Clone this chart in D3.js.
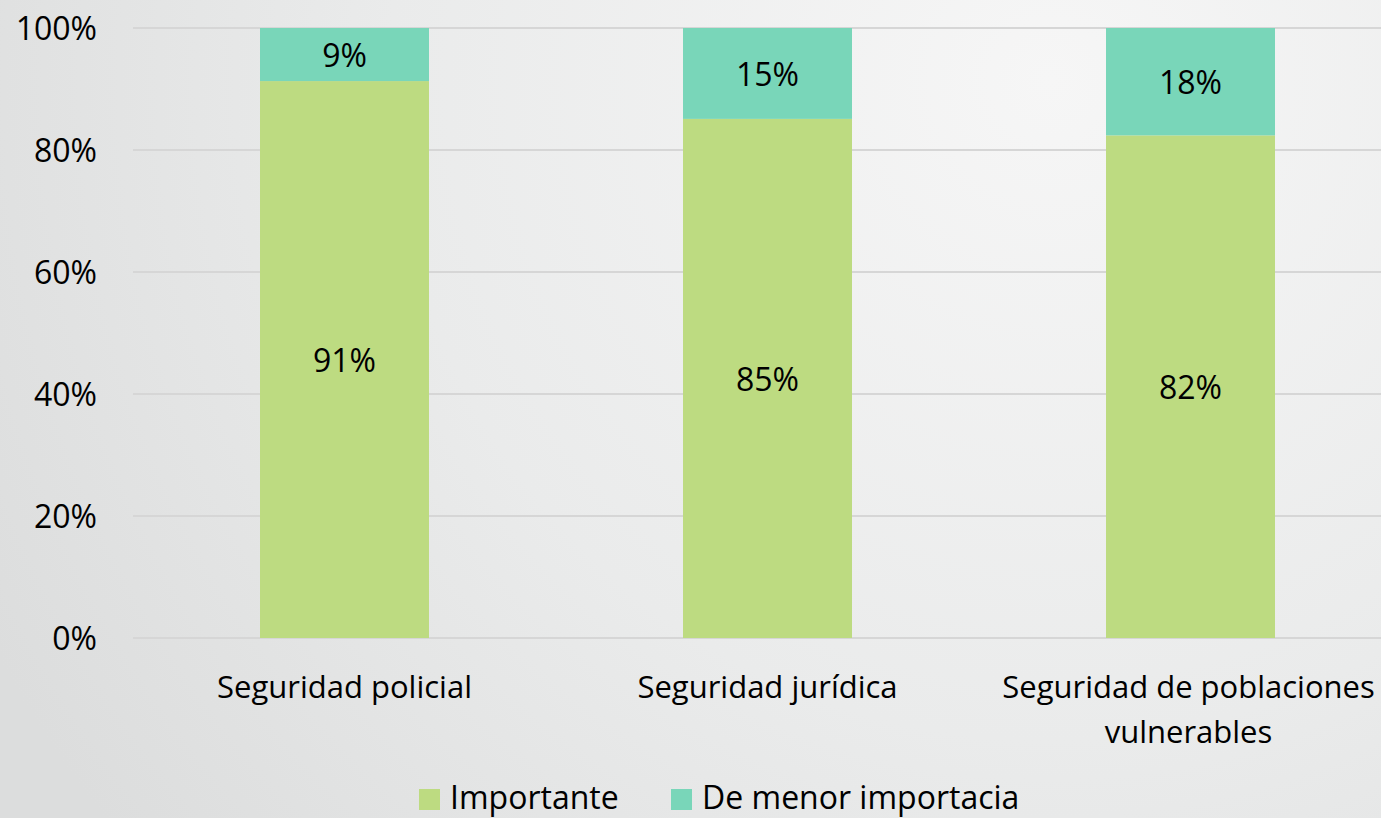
<!DOCTYPE html>
<html><head><meta charset="utf-8">
<script src="https://cdn.jsdelivr.net/npm/d3@7"></script>
<style>html,body{margin:0;padding:0;overflow:hidden;}svg{display:block;}</style>
</head><body>
<svg id="c" width="1381" height="818"></svg>
<script>
const categories = [["Seguridad policial"], ["Seguridad jurídica"], ["Seguridad de poblaciones", "vulnerables"]];
const seriesNames = ["Importante", "De menor importacia"];
const importante = [91.3, 85.1, 82.4];
const menor = [8.7, 14.9, 17.6];
const yTicks = [0, 20, 40, 60, 80, 100];
const colors = ["#bddb81", "#79d6b9"];

const W = 1381, H = 818;
const svg = d3.select("#c");
const font = "'Open Sans', sans-serif";
const fs = 32;

const defs = svg.append("defs");
const g = defs.append("radialGradient").attr("id","bg").attr("gradientUnits","userSpaceOnUse")
  .attr("cx",1050).attr("cy",80).attr("r",1200);
g.append("stop").attr("offset","0").attr("stop-color","#f6f6f6");
g.append("stop").attr("offset","0.55").attr("stop-color","#eaebeb");
g.append("stop").attr("offset","1").attr("stop-color","#dcdddd");
svg.append("rect").attr("width",W).attr("height",H).attr("fill","url(#bg)");

const x = d3.scaleBand().domain(d3.range(categories.length)).range([133, 1402]).paddingInner(0.6).paddingOuter(0.3);
const y = d3.scaleLinear().domain([0,100]).range([638, 28]);

// gridlines
svg.append("g").selectAll("line").data(yTicks).join("line")
  .attr("x1",133).attr("x2",W).attr("y1",d=>y(d)).attr("y2",d=>y(d))
  .attr("stroke","#d6d6d6").attr("stroke-width",2);

// y axis labels
const yAxis = d3.axisLeft(y).tickValues(yTicks).tickFormat(d=>d+"%").tickSize(0).tickPadding(0);
const ya = svg.append("g").attr("transform","translate(97,0)").call(yAxis);
ya.select(".domain").remove();
ya.selectAll("text").attr("font-family",font).attr("font-size",fs).attr("fill","#000").attr("dy","0.35em");

// stacked bars
const data = categories.map((c,i)=>({i, v:[importante[i], menor[i]]}));
const stack = data.map(d=>{let acc=0; return d.v.map((v,k)=>{const s={i:d.i,k,y0:acc,y1:acc+v,v}; acc+=v; return s;});}).flat();
const bw = 169;
svg.append("g").selectAll("rect").data(stack).join("rect")
  .attr("x",d=>x(d.i)+x.bandwidth()/2-bw/2).attr("width",bw)
  .attr("y",d=>y(d.y1)).attr("height",d=>y(d.y0)-y(d.y1))
  .attr("fill",d=>colors[d.k]);
svg.append("g").selectAll("text").data(stack).join("text")
  .attr("x",d=>x(d.i)+x.bandwidth()/2).attr("y",d=>(y(d.y0)+y(d.y1))/2)
  .attr("dy","0.38em").attr("text-anchor","middle")
  .attr("font-family",font).attr("font-size",fs).attr("fill","#000")
  .text(d=>Math.round(d.v)+"%");

// x labels
const xl = svg.append("g").selectAll("text").data(categories).join("text")
  .attr("text-anchor","middle").attr("font-family",font).attr("font-size",31).attr("fill","#000");
xl.each(function(lines,i){
  const t=d3.select(this);
  lines.forEach((l,j)=>t.append("tspan").attr("x",x(i)+x.bandwidth()/2 - (i===2?2:0)).attr("y",698+j*45).text(l));
});

// legend
const leg = [{n:seriesNames[0],c:colors[0],x:419},{n:seriesNames[1],c:colors[1],x:671}];
const lg = svg.append("g").selectAll("g").data(leg).join("g").attr("transform",d=>`translate(${d.x},0)`);
lg.append("rect").attr("x",0).attr("y",789).attr("width",21).attr("height",21).attr("fill",d=>d.c);
lg.append("text").attr("x",31).attr("y",809).attr("font-family",font).attr("font-size",fs).attr("fill","#000").text(d=>d.n);
</script>
</body></html>
